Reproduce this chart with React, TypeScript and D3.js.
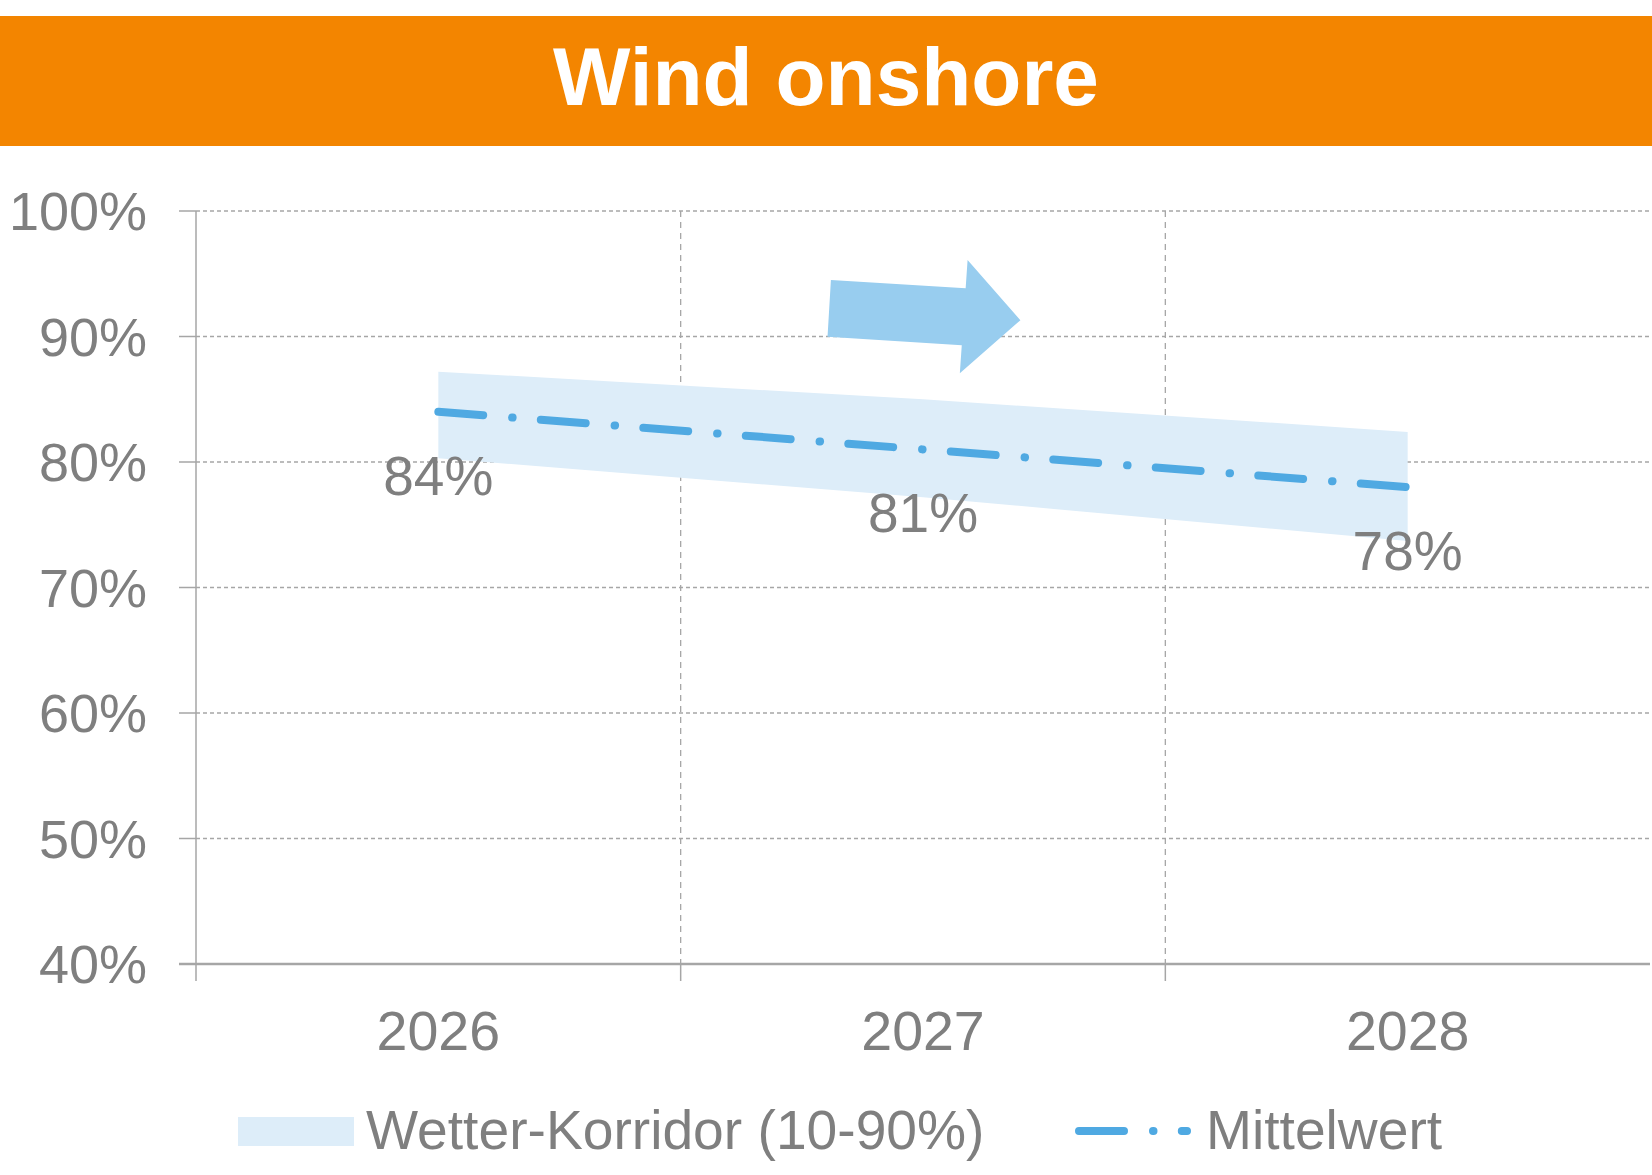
import * as d3 from 'd3';

// chart data
const years = ['2026', '2027', '2028'];
const meanValues = [84, 81, 78];
const corridorHigh = [87.2, 85.0, 82.4];
const corridorLow = [80.3, 77.2, 73.7];
const yTicks = [40, 50, 60, 70, 80, 90, 100];

// decorative arrow, in (category index, percent) units
const arrowShape: Array<[number, number]> = [
  [0.81, 94.5],
  [1.088, 93.84],
  [1.092, 96.1],
  [1.201, 91.3],
  [1.076, 87.07],
  [1.08, 89.3],
  [0.803, 89.98],
];

const width = 1652;
const height = 1175;
const font = '"Liberation Sans", Arial, sans-serif';
const gray = '#7f7f7f';
const gridGray = '#a6a6a6';
const lineBlue = '#4fa9e2';
const bandBlue = '#ddedf9';
const arrowBlue = '#98cdef';

export default function App() {
  const plotLeft = 196;
  const plotRight = 1650;
  const plotTop = 211;
  const plotBottom = 964;

  const x = d3.scaleBand<string>().domain(years).range([plotLeft, plotRight]).padding(0);
  const xIdx = d3.scaleLinear().domain([-0.5, years.length - 0.5]).range([plotLeft, plotRight]);
  const y = d3.scaleLinear().domain([40, 100]).range([plotBottom, plotTop]);
  const cx = (yr: string) => (x(yr) ?? 0) + x.bandwidth() / 2;

  const area = d3
    .area<number>()
    .x((_, i) => cx(years[i]))
    .y0((_, i) => y(corridorLow[i]))
    .y1((_, i) => y(corridorHigh[i]));

  const line = d3
    .line<number>()
    .x((_, i) => cx(years[i]))
    .y((d) => y(d));

  const arrowPath =
    d3
      .line<[number, number]>()
      .x((d) => xIdx(d[0]))
      .y((d) => y(d[1]))(arrowShape) + 'Z';

  const dash = '45 29 0.5 28.3';

  return (
    <svg
      width={width}
      height={height}
      style={{ position: 'absolute', left: 0, top: 0, background: '#fff' }}
      fontFamily={font}
    >
      {/* Title banner */}
      <rect x={0} y={16} width={width} height={130} fill="#f38500" />
      <text x={width / 2} y={105} textAnchor="middle" fontSize={82} fontWeight="bold" fill="#fff">
        Wind onshore
      </text>

      {/* Horizontal grid */}
      {yTicks
        .filter((t) => t !== 40)
        .map((t) => (
          <line
            key={t}
            x1={plotLeft}
            x2={plotRight}
            y1={y(t)}
            y2={y(t)}
            stroke={gridGray}
            strokeWidth={1.3}
            strokeDasharray="4 3"
          />
        ))}

      {/* Vertical grid between categories */}
      {years.slice(1).map((yr) => (
        <g key={yr}>
          <line
            x1={x(yr)}
            x2={x(yr)}
            y1={plotTop}
            y2={plotBottom}
            stroke={gridGray}
            strokeWidth={1.3}
            strokeDasharray="6 5"
          />
          <line x1={x(yr)} x2={x(yr)} y1={plotBottom} y2={plotBottom + 17} stroke={gridGray} strokeWidth={1.5} />
        </g>
      ))}

      {/* Axes */}
      <line x1={plotLeft} x2={plotLeft} y1={plotTop} y2={plotBottom + 17} stroke={gridGray} strokeWidth={1.5} />
      <line x1={plotLeft - 17} x2={plotRight} y1={plotBottom} y2={plotBottom} stroke={gridGray} strokeWidth={2.5} />
      {yTicks.map((t) => (
        <g key={t}>
          <line x1={plotLeft - 17} x2={plotLeft} y1={y(t)} y2={y(t)} stroke={gridGray} strokeWidth={1.5} />
          <text x={147} y={y(t) + 19} textAnchor="end" fontSize={54} fill={gray}>
            {t}%
          </text>
        </g>
      ))}
      {years.map((yr) => (
        <text key={yr} x={cx(yr)} y={1050} textAnchor="middle" fontSize={55.5} fill={gray}>
          {yr}
        </text>
      ))}

      {/* Corridor */}
      <path d={area(meanValues) || ''} fill={bandBlue} />

      {/* Arrow */}
      <path d={arrowPath} fill={arrowBlue} />

      {/* Mean line */}
      <path
        d={line(meanValues) || ''}
        fill="none"
        stroke={lineBlue}
        strokeWidth={8}
        strokeLinecap="round"
        strokeDasharray={dash}
      />

      {/* Data labels */}
      {meanValues.map((v, i) => (
        <text key={i} x={cx(years[i])} y={y(v) + 83} textAnchor="middle" fontSize={55} fill={gray}>
          {v}%
        </text>
      ))}

      {/* Legend */}
      <rect x={238} y={1117} width={116} height={29} fill={bandBlue} />
      <text x={366} y={1149} fontSize={55.2} fill={gray}>
        Wetter-Korridor (10-90%)
      </text>
      <line
        x1={1079}
        x2={1187}
        y1={1131}
        y2={1131}
        stroke={lineBlue}
        strokeWidth={8}
        strokeLinecap="round"
        strokeDasharray={dash}
      />
      <text x={1206} y={1149} fontSize={55.2} fill={gray}>
        Mittelwert
      </text>
    </svg>
  );
}
